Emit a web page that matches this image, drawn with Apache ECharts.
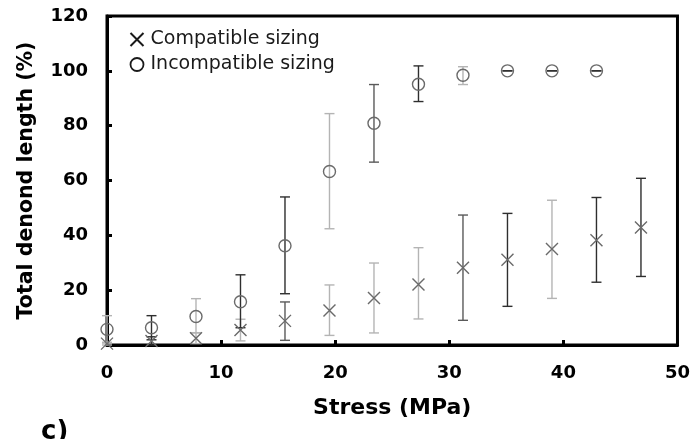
<!DOCTYPE html>
<html>
<head>
<meta charset="utf-8">
<script src="https://cdn.jsdelivr.net/npm/echarts@6/dist/echarts.min.js"></script>
<style>
html,body{margin:0;padding:0;background:#fff;}
#chart{width:693px;height:439px;}
</style>
</head>
<body>
<div id="chart"></div>
<script>
// ---- data ----
var seriesNames = ['Compatible sizing', 'Incompatible sizing'];
var stressCompatible = [0, 3.9, 7.8, 11.7, 15.6, 19.5, 23.4, 27.3, 31.2, 35.1, 39.0, 42.9, 46.8];
var lengthCompatible = [0.5, 1.5, 2.5, 5.5, 8.8, 12.6, 17.1, 22.1, 28.2, 31.1, 35.0, 38.2, 42.9];
var lowCompatible    = [0.0, 0.0, 0.5, 1.5, 1.7, 3.5, 4.4, 9.5, 9.0, 14.1, 17.0, 22.9, 25.0];
var highCompatible   = [1.0, 3.0, 4.5, 9.4, 15.7, 21.9, 29.9, 35.5, 47.4, 48.0, 52.8, 53.8, 60.8];

var stressIncompatible = [0, 3.9, 7.8, 11.7, 15.6, 19.5, 23.4, 27.3, 31.2, 35.1, 39.0, 42.9];
var lengthIncompatible = [5.7, 6.3, 10.4, 15.8, 36.2, 63.3, 80.9, 95.1, 98.4, 100, 100, 100];
var lowIncompatible    = [0.7, 1.9, 4.4, 6.3, 18.7, 42.4, 66.7, 88.8, 95.0, 100, 100, 100];
var highIncompatible   = [10.7, 10.7, 16.9, 25.6, 54.0, 84.4, 95.0, 101.8, 101.5, 100, 100, 100];

var xTicks = [0, 10, 20, 30, 40, 50];
var yTicks = [0, 20, 40, 60, 80, 100, 120];

// ---- styles ----
var shadeColors = { dark: '#2e2e2e', mid: '#5a5a5a', light: '#b4b4b4' };
var compatibleBarShade = ['light', 'dark', 'light', 'light', 'mid', 'light', 'light', 'light', 'mid', 'dark', 'light', 'dark', 'dark'];
var incompatibleBarShade = ['light', 'dark', 'light', 'dark', 'dark', 'light', 'mid', 'dark', 'light', 'dark', 'dark', 'dark'];
var FONT = 'DejaVu Sans';

function zip(xs, ys) { return xs.map(function (x, i) { return [x, ys[i]]; }); }
function zip3(xs, lo, hi) { return xs.map(function (x, i) { return [x, lo[i], hi[i]]; }); }

function errorRenderer(shades) {
  return function (params, api) {
    var x = api.value(0), lo = api.value(1), hi = api.value(2);
    var p1 = api.coord([x, lo]), p2 = api.coord([x, hi]);
    var hw = 5;
    var style = { stroke: shadeColors[shades[params.dataIndex]], lineWidth: 1.4, fill: null };
    return {
      type: 'group',
      children: [
        { type: 'line', shape: { x1: p1[0], y1: p1[1], x2: p2[0], y2: p2[1] }, style: style },
        { type: 'line', shape: { x1: p1[0] - hw, y1: p1[1], x2: p1[0] + hw, y2: p1[1] }, style: style },
        { type: 'line', shape: { x1: p2[0] - hw, y1: p2[1], x2: p2[0] + hw, y2: p2[1] }, style: style }
      ]
    };
  };
}

var crossPath = 'path://M0,0L10,10M10,0L0,10';

var chart = echarts.init(document.getElementById('chart'), null, { renderer: 'canvas' });
chart.setOption({
  backgroundColor: '#fff',
  animation: false,
  grid: { left: 107, right: 15, top: 16, bottom: 94, show: true, borderColor: '#000', borderWidth: 3, backgroundColor: 'transparent' },
  legend: {
    orient: 'vertical', left: 123, top: 25, itemWidth: 17, itemHeight: 13, itemGap: 6,
    selectedMode: false,
    textStyle: { fontFamily: FONT, fontSize: 19, color: '#1a1a1a', lineHeight: 19 },
    data: [
      { name: seriesNames[0], itemStyle: { borderColor: '#1a1a1a', borderWidth: 2 } },
      { name: seriesNames[1], itemStyle: { borderColor: '#1a1a1a', borderWidth: 1.8 } }
    ]
  },
  xAxis: {
    type: 'value', min: xTicks[0], max: xTicks[xTicks.length - 1], interval: 10,
    name: 'Stress (MPa)', nameLocation: 'middle', nameGap: 52,
    nameTextStyle: { fontFamily: FONT, fontWeight: 'bold', fontSize: 22, color: '#000' },
    axisLine: { onZero: false, lineStyle: { color: '#000', width: 3 } },
    axisTick: { inside: true, length: 5, lineStyle: { color: '#000', width: 3 } },
    axisLabel: { margin: 19, fontFamily: FONT, fontWeight: 'bold', fontSize: 18, color: '#000' },
    splitLine: { show: false }
  },
  yAxis: {
    type: 'value', min: yTicks[0], max: yTicks[yTicks.length - 1], interval: 20,
    name: 'Total denond length (%)', nameLocation: 'middle', nameGap: 70,
    nameTextStyle: { fontFamily: FONT, fontWeight: 'bold', fontSize: 20.5, color: '#000' },
    axisLine: { onZero: false, lineStyle: { color: '#000', width: 3 } },
    axisTick: { inside: true, length: 5, lineStyle: { color: '#000', width: 3 } },
    axisLabel: { margin: 19, fontFamily: FONT, fontWeight: 'bold', fontSize: 18, color: '#000' },
    splitLine: { show: false }
  },
  graphic: [{
    type: 'text', left: 41, top: 419,
    style: { text: 'c)', fontFamily: FONT, fontWeight: 'bold', fontSize: 26, fill: '#000' }
  }],
  series: [
    {
      name: seriesNames[0] + ' error', type: 'custom', renderItem: errorRenderer(compatibleBarShade),
      data: zip3(stressCompatible, lowCompatible, highCompatible), z: 2, silent: true
    },
    {
      name: seriesNames[1] + ' error', type: 'custom', renderItem: errorRenderer(incompatibleBarShade),
      data: zip3(stressIncompatible, lowIncompatible, highIncompatible), z: 2, silent: true
    },
    {
      name: seriesNames[0], type: 'scatter', symbol: crossPath, symbolSize: 12, clip: false,
      itemStyle: { color: 'none', borderColor: '#6a6a6a', borderWidth: 1.4, opacity: 1 },
      data: zip(stressCompatible, lengthCompatible), z: 3
    },
    {
      name: seriesNames[1], type: 'scatter', symbol: 'circle', symbolSize: 12, clip: false,
      itemStyle: { color: 'rgba(255,255,255,0)', borderColor: '#6a6a6a', borderWidth: 1.4, opacity: 1 },
      data: zip(stressIncompatible, lengthIncompatible), z: 3
    }
  ]
});
</script>
</body>
</html>
